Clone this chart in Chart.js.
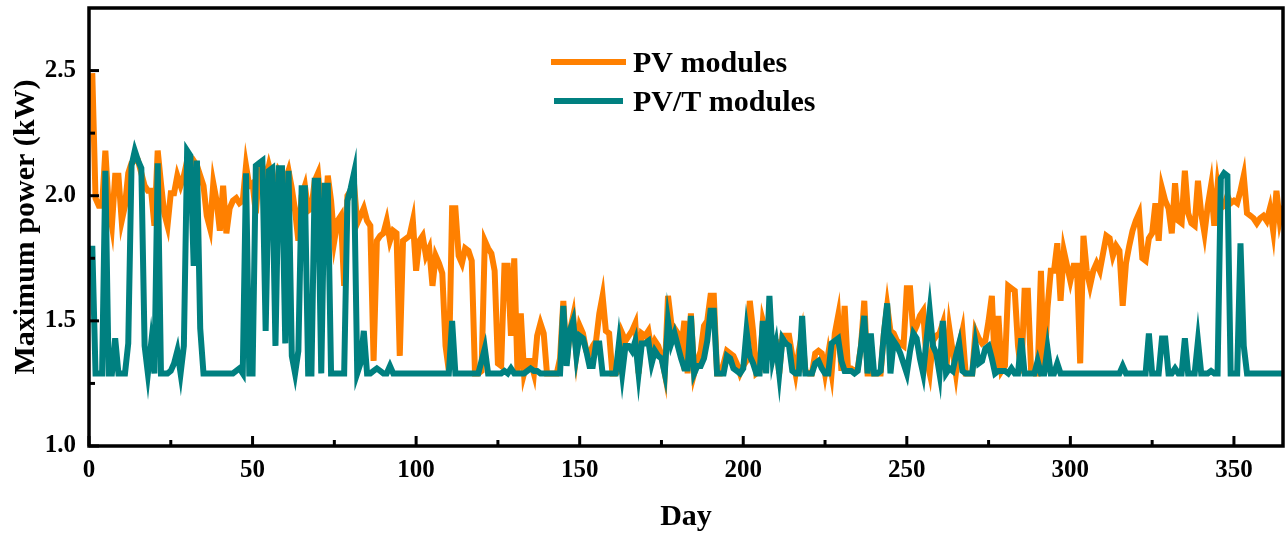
<!DOCTYPE html>
<html>
<head>
<meta charset="utf-8">
<title>Maximum power</title>
<script src="https://cdn.jsdelivr.net/npm/chart.js@4.4.1/dist/chart.umd.min.js"></script>
<style>
  html, body { margin: 0; padding: 0; background: #fff; }
  #wrap { width: 1287px; height: 535px; }
</style>
</head>
<body>
<div id="wrap"><canvas id="powerChart" width="1287" height="535"></canvas></div>
<script>
// Daily maximum power (kW), day 1 .. 365
const pvPower = [
  2.49, 1.99, 1.96, 1.96, 2.18, 1.96, 1.88, 2.08, 2.08, 1.90,
  1.96, 2.09, 2.13, 2.14, 2.14, 2.09, 2.04, 2.02, 2.02, 1.88,
  2.18, 2.05, 1.93, 1.88, 2.01, 2.01, 2.08, 2.04, 2.08, 2.14,
  2.12, 2.14, 2.12, 2.08, 2.04, 1.92, 1.87, 2.05, 1.98, 1.86,
  2.04, 1.85, 1.95, 1.98, 1.99, 1.97, 1.98, 2.12, 2.04, 2.05,
  1.93, 2.10, 2.12, 2.06, 2.12, 2.07, 2.02, 2.10, 2.08, 2.06,
  2.10, 2.03, 1.94, 1.82, 2.00, 2.04, 1.94, 1.95, 2.06, 2.09,
  1.95, 1.85, 2.08, 1.98, 1.82, 1.90, 1.92, 1.64, 2.00, 2.02,
  2.05, 1.89, 1.92, 1.95, 1.90, 1.88, 1.34, 1.82, 1.84, 1.85,
  1.90, 1.82, 1.86, 1.85, 1.36, 1.82, 1.83, 1.84, 1.90, 1.70,
  1.82, 1.84, 1.76, 1.79, 1.64, 1.76, 1.73, 1.69, 1.40, 1.30,
  1.95, 1.95, 1.76, 1.73, 1.79, 1.78, 1.74, 1.29, 1.29, 1.30,
  1.82, 1.79, 1.77, 1.70, 1.33, 1.32, 1.72, 1.72, 1.44, 1.75,
  1.29, 1.53, 1.29, 1.34, 1.34, 1.29, 1.44, 1.49, 1.45, 1.29,
  1.29, 1.29, 1.29, 1.35, 1.58, 1.33, 1.46, 1.52, 1.37, 1.48,
  1.45, 1.38, 1.37, 1.40, 1.42, 1.53, 1.60, 1.46, 1.45, 1.29,
  1.29, 1.30, 1.45, 1.42, 1.44, 1.46, 1.49, 1.29, 1.45, 1.44,
  1.46, 1.38, 1.42, 1.40, 1.36, 1.29, 1.60, 1.49, 1.47, 1.45,
  1.38, 1.50, 1.29, 1.53, 1.29, 1.34, 1.38, 1.48, 1.50, 1.60,
  1.60, 1.29, 1.29, 1.33, 1.38, 1.37, 1.36, 1.33, 1.29, 1.32,
  1.34, 1.58, 1.46, 1.29, 1.30, 1.50, 1.45, 1.43, 1.43, 1.42,
  1.29, 1.44, 1.44, 1.44, 1.36, 1.29, 1.38, 1.45, 1.30, 1.29,
  1.29, 1.37, 1.38, 1.37, 1.29, 1.37, 1.29, 1.45, 1.52, 1.30,
  1.56, 1.31, 1.31, 1.30, 1.31, 1.40, 1.58, 1.29, 1.29, 1.29,
  1.29, 1.29, 1.45, 1.56, 1.46, 1.45, 1.42, 1.41, 1.40, 1.63,
  1.63, 1.45, 1.48, 1.52, 1.54, 1.35, 1.29, 1.42, 1.44, 1.45,
  1.49, 1.29, 1.47, 1.38, 1.29, 1.40, 1.46, 1.29, 1.29, 1.29,
  1.46, 1.43, 1.41, 1.42, 1.50, 1.60, 1.29, 1.52, 1.30, 1.32,
  1.64, 1.63, 1.62, 1.40, 1.29, 1.62, 1.62, 1.30, 1.29, 1.29,
  1.70, 1.29, 1.55, 1.70, 1.70, 1.81, 1.58, 1.78, 1.72, 1.66,
  1.72, 1.72, 1.33, 1.84, 1.70, 1.64, 1.70, 1.73, 1.70, 1.77,
  1.84, 1.83, 1.76, 1.80, 1.78, 1.56, 1.73, 1.80, 1.86, 1.90,
  1.93, 1.75, 1.74, 1.83, 1.85, 1.97, 1.82, 2.03, 1.98, 1.95,
  1.85, 2.05, 1.90, 1.89, 2.10, 1.93, 1.89, 1.88, 2.06, 1.93,
  1.85, 1.96, 2.04, 1.88, 2.04, 1.95, 1.96, 2.00, 1.97, 1.98,
  1.97, 2.02, 2.08, 1.93, 1.92, 1.91, 1.89, 1.91, 1.92, 1.90,
  1.95, 1.86, 2.02, 1.90, 1.96
];

const pvtPower = [
  1.80, 1.29, 1.29, 1.29, 2.10, 1.29, 1.29, 1.43, 1.29, 1.29,
  1.29, 1.41, 2.12, 2.18, 2.14, 2.11, 1.40, 1.29, 1.41, 1.29,
  2.13, 1.29, 1.29, 1.29, 1.30, 1.33, 1.38, 1.29, 1.40, 2.18,
  2.16, 1.72, 2.14, 1.47, 1.29, 1.29, 1.29, 1.29, 1.29, 1.29,
  1.29, 1.29, 1.29, 1.29, 1.30, 1.31, 1.29, 2.09, 1.29, 1.29,
  2.12, 2.13, 2.14, 1.46, 2.10, 2.11, 1.40, 2.11, 2.11, 1.41,
  2.10, 1.36, 1.29, 1.38, 2.03, 2.03, 1.29, 1.29, 2.06, 2.06,
  1.29, 2.04, 2.04, 1.29, 1.29, 1.29, 1.29, 1.29, 1.98, 2.03,
  2.09, 1.29, 1.33, 1.46, 1.29, 1.29, 1.30, 1.31, 1.30, 1.29,
  1.29, 1.32, 1.29, 1.29, 1.29, 1.29, 1.29, 1.29, 1.29, 1.29,
  1.29, 1.29, 1.29, 1.29, 1.29, 1.29, 1.29, 1.29, 1.29, 1.29,
  1.50, 1.29, 1.29, 1.29, 1.29, 1.29, 1.29, 1.29, 1.29, 1.34,
  1.39, 1.29, 1.29, 1.29, 1.29, 1.29, 1.30, 1.29, 1.31, 1.29,
  1.29, 1.29, 1.29, 1.30, 1.31, 1.30, 1.30, 1.29, 1.29, 1.29,
  1.29, 1.29, 1.29, 1.29, 1.56, 1.32, 1.46, 1.50, 1.36, 1.44,
  1.43, 1.38, 1.32, 1.32, 1.41, 1.41, 1.29, 1.29, 1.29, 1.29,
  1.29, 1.41, 1.29, 1.40, 1.40, 1.38, 1.42, 1.29, 1.41, 1.41,
  1.42, 1.33, 1.38, 1.36, 1.35, 1.29, 1.50, 1.41, 1.45, 1.40,
  1.35, 1.31, 1.31, 1.52, 1.29, 1.32, 1.32, 1.35, 1.42, 1.54,
  1.54, 1.29, 1.29, 1.29, 1.36, 1.35, 1.31, 1.30, 1.29, 1.31,
  1.46, 1.36, 1.33, 1.29, 1.29, 1.50, 1.29, 1.60, 1.35, 1.41,
  1.29, 1.43, 1.41, 1.40, 1.30, 1.29, 1.29, 1.52, 1.29, 1.29,
  1.29, 1.33, 1.34, 1.31, 1.29, 1.29, 1.41, 1.42, 1.43, 1.34,
  1.30, 1.30, 1.30, 1.29, 1.30, 1.40, 1.52, 1.29, 1.45, 1.29,
  1.29, 1.30, 1.45, 1.57, 1.29, 1.42, 1.40, 1.37, 1.33, 1.29,
  1.38, 1.45, 1.43, 1.35, 1.29, 1.42, 1.54, 1.40, 1.37, 1.29,
  1.50, 1.29, 1.31, 1.30, 1.36, 1.41, 1.30, 1.29, 1.29, 1.29,
  1.41, 1.33, 1.34, 1.39, 1.40, 1.35, 1.29, 1.30, 1.30, 1.30,
  1.29, 1.31, 1.29, 1.29, 1.43, 1.29, 1.29, 1.29, 1.29, 1.34,
  1.29, 1.29, 1.39, 1.29, 1.29, 1.33, 1.29, 1.29, 1.29, 1.29,
  1.29, 1.29, 1.29, 1.29, 1.29, 1.29, 1.29, 1.29, 1.29, 1.29,
  1.29, 1.29, 1.29, 1.29, 1.29, 1.32, 1.29, 1.29, 1.29, 1.29,
  1.29, 1.29, 1.29, 1.45, 1.29, 1.29, 1.29, 1.43, 1.43, 1.29,
  1.29, 1.31, 1.29, 1.29, 1.43, 1.29, 1.29, 1.29, 1.42, 1.29,
  1.29, 1.29, 1.30, 1.29, 1.29, 2.07, 2.09, 2.08, 1.29, 1.29,
  1.29, 1.81, 1.40, 1.29, 1.29, 1.29, 1.29, 1.29, 1.29, 1.29,
  1.29, 1.29, 1.29, 1.29, 1.29
];

const seriesLabels = ['PV modules', 'PV/T modules'];
const seriesColors = ['#ff8000', '#008080'];

// axis ticks: every 25 days / 0.25 kW, labelled every 50 days / 0.5 kW
const xTickValues = [0, 25, 50, 75, 100, 125, 150, 175, 200, 225, 250, 275, 300, 325, 350];
const yTickValues = [1.0, 1.25, 1.5, 1.75, 2.0, 2.25, 2.5];

const days = pvPower.map((_, i) => i + 1);

const serif = "'Liberation Serif', 'Times New Roman', serif";
Chart.defaults.font.family = serif;
Chart.defaults.font.weight = 'bold';
Chart.defaults.color = '#000';

// box around the plot plus inward tick marks
const frameTicks = {
  id: 'frameTicks',
  afterDatasetsDraw(chart) {
    const { ctx, chartArea: a, scales } = chart;
    ctx.save();
    ctx.strokeStyle = '#000';
    ctx.lineCap = 'butt';
    ctx.lineWidth = 3;
    scales.x.ticks.forEach(t => {
      const px = scales.x.getPixelForValue(t.value);
      const len = t.value % 50 === 0 ? 10 : 6;
      ctx.beginPath();
      ctx.moveTo(px, a.bottom);
      ctx.lineTo(px, a.bottom - len);
      ctx.stroke();
    });
    scales.y.ticks.forEach(t => {
      const py = scales.y.getPixelForValue(t.value);
      const major = Math.abs(t.value * 2 - Math.round(t.value * 2)) < 1e-6;
      const len = major ? 10 : 6;
      ctx.beginPath();
      ctx.moveTo(a.left, py);
      ctx.lineTo(a.left + len, py);
      ctx.stroke();
    });
    ctx.lineWidth = 3.5;
    ctx.strokeRect(a.left, a.top, a.right - a.left, a.bottom - a.top);
    ctx.restore();
  }
};

// legend inside the plot, upper middle
const innerLegend = {
  id: 'innerLegend',
  afterDraw(chart) {
    const { ctx } = chart;
    const rows = [62, 101];
    ctx.save();
    chart.data.datasets.forEach((ds, i) => {
      const y = rows[i];
      ctx.strokeStyle = ds.borderColor;
      ctx.lineWidth = 6;
      ctx.lineCap = 'butt';
      ctx.beginPath();
      ctx.moveTo(i === 0 ? 551 : 554, y);
      ctx.lineTo(i === 0 ? 626 : 623, y);
      ctx.stroke();
      ctx.fillStyle = '#000';
      ctx.font = 'bold 30px ' + serif;
      ctx.textBaseline = 'middle';
      ctx.textAlign = 'left';
      ctx.fillText(ds.label, 633, y + 2);
    });
    ctx.restore();
  }
};

// fixed axis boxes, no extra room reserved for edge labels
function fixBox(size, vertical) {
  return scale => {
    if (vertical) scale.width = size; else scale.height = size;
    scale.paddingTop = 0;
    scale.paddingBottom = 0;
    scale.paddingLeft = 0;
    scale.paddingRight = 0;
  };
}

const ctx = document.getElementById('powerChart').getContext('2d');
const powerChart = new Chart(ctx, {
  type: 'line',
  data: {
    datasets: [
      {
        label: seriesLabels[0],
        data: days.map((d, i) => ({ x: d, y: pvPower[i] })),
        borderColor: seriesColors[0],
        borderWidth: 6,
        pointRadius: 0,
        tension: 0,
        borderJoinStyle: 'miter',
        order: 2
      },
      {
        label: seriesLabels[1],
        data: days.map((d, i) => ({ x: d, y: pvtPower[i] })),
        borderColor: seriesColors[1],
        borderWidth: 6,
        pointRadius: 0,
        tension: 0,
        borderJoinStyle: 'miter',
        order: 1
      }
    ]
  },
  options: {
    responsive: false,
    animation: false,
    devicePixelRatio: 1,
    layout: { padding: { top: 8, right: 4, left: 0, bottom: 0 } },
    plugins: {
      legend: { display: false },
      tooltip: { enabled: false }
    },
    scales: {
      x: {
        type: 'linear',
        min: 0,
        max: 365,
        afterBuildTicks: scale => { scale.ticks = xTickValues.map(v => ({ value: v })); },
        afterFit: fixBox(89, false),
        grid: { display: false, drawTicks: false },
        border: { display: false },
        ticks: {
          padding: 10,
          maxRotation: 0,
          autoSkip: false,
          font: { size: 25, weight: 'bold' },
          callback: v => (v % 50 === 0 ? String(v) : '')
        },
        title: {
          display: true,
          text: 'Day',
          font: { size: 30, weight: 'bold' },
          padding: { top: 0, bottom: 0 }
        }
      },
      y: {
        type: 'linear',
        min: 1.0,
        max: 2.75,
        afterBuildTicks: scale => { scale.ticks = yTickValues.map(v => ({ value: v })); },
        afterFit: fixBox(89, true),
        grid: { display: false, drawTicks: false },
        border: { display: false },
        ticks: {
          padding: 13,
          autoSkip: false,
          font: { size: 25, weight: 'bold' },
          callback: v => (Math.abs(v * 2 - Math.round(v * 2)) < 1e-6 ? v.toFixed(1) : '')
        },
        title: {
          display: true,
          text: 'Maximum power (kW)',
          font: { size: 30, weight: 'bold' },
          padding: { top: 8, bottom: 0 }
        }
      }
    }
  },
  plugins: [frameTicks, innerLegend]
});
</script>
</body>
</html>
